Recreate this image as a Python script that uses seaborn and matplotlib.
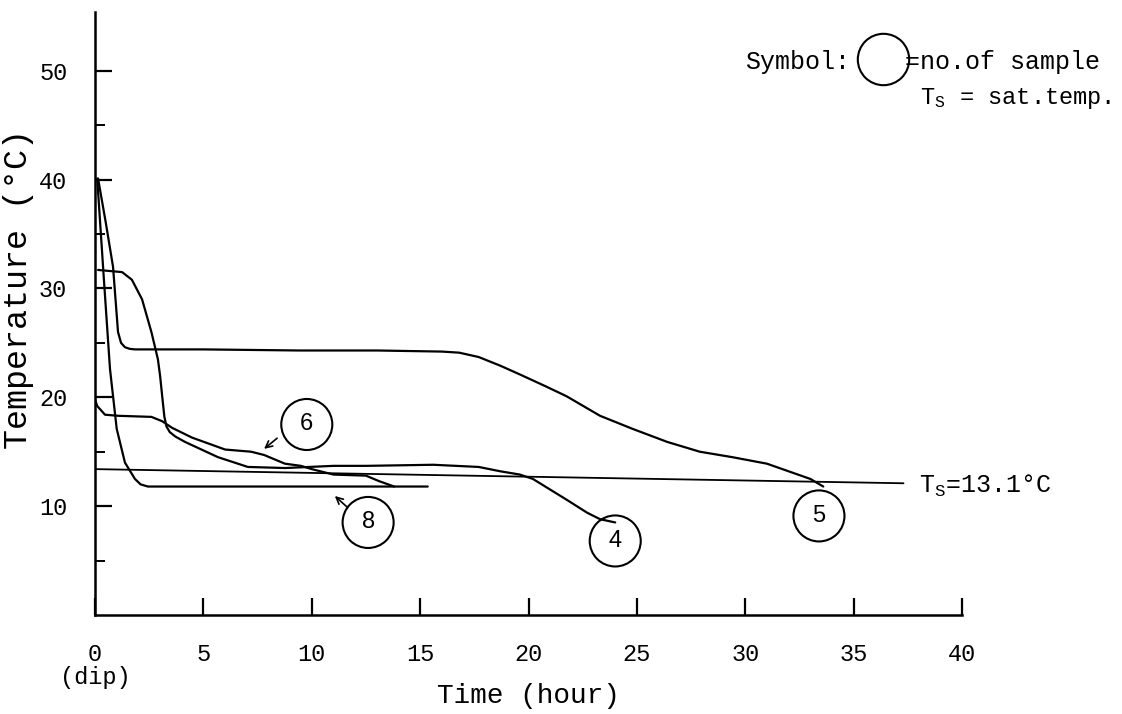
import matplotlib
matplotlib.use("Agg")
import matplotlib.pyplot as plt
import numpy as np
import pandas as pd
import seaborn as sns

# ---------------- data ----------------
# sample 5
s5_hours = [0.14, 0.5, 0.83, 1.06, 1.2, 1.38, 1.6, 1.84, 5.0, 9.4, 13.0, 16.0, 16.8, 17.7,
            18.7, 19.6, 20.8, 21.75, 23.3, 24.8, 26.4, 27.9, 29.4, 31.0, 32.0, 33.0, 33.6]
s5_temps = [40.1, 36.0, 32.0, 26.0, 25.0, 24.6, 24.45, 24.4, 24.4, 24.3, 24.3, 24.2, 24.1, 23.7,
            22.9, 22.1, 21.0, 20.1, 18.3, 17.1, 15.9, 15.0, 14.5, 13.9, 13.2, 12.5, 11.8]
# sample 8
s8_hours = [0.1, 0.41, 0.69, 1.0, 1.38, 1.84, 2.1, 2.44, 2.75, 6.0, 10.0, 15.35]
s8_temps = [40.1, 30.8, 22.6, 17.1, 14.0, 12.5, 12.0, 11.8, 11.8, 11.8, 11.8, 11.8]
# sample 4
s4_hours = [0.14, 1.25, 1.7, 2.17, 2.6, 2.9, 3.0, 3.13, 3.2, 3.3, 3.45, 3.7, 4.15, 5.67, 7.05,
            8.76, 11.0, 12.5, 15.6, 17.7, 18.7, 19.6, 20.2, 21.75, 22.7, 23.3, 24.0]
s4_temps = [31.7, 31.5, 30.8, 29.0, 26.0, 23.5, 22.0, 19.5, 18.2, 17.3, 16.8, 16.4, 15.9, 14.5,
            13.6, 13.5, 13.7, 13.7, 13.8, 13.6, 13.2, 12.9, 12.5, 10.6, 9.4, 8.8, 8.5]
# sample 6
s6_hours = [0.0, 0.1, 0.46, 1.06, 2.6, 3.1, 3.55, 4.47, 6.0, 7.2, 7.8, 8.76, 9.5,
            10.0, 10.4, 11.0, 12.5, 13.1, 13.8]
s6_temps = [19.8, 19.2, 18.4, 18.3, 18.2, 17.8, 17.2, 16.3, 15.2, 15.0, 14.7, 13.9, 13.7,
            13.4, 13.2, 12.9, 12.8, 12.3, 11.8]

# saturation temperature line (as drawn)
ts_hours = [0.0, 37.3]
ts_temps = [13.4, 12.1]

# sample-number circles
circle_labels = ["6", "8", "4", "5"]
circle_x = [9.77, 12.6, 24.0, 33.4]
circle_y = [17.5, 8.5, 6.8, 9.1]

x_ticks = [0, 5, 10, 15, 20, 25, 30, 35, 40]
x_ticklabels = ["0\n(dip)", "5", "10", "15", "20", "25", "30", "35", "40"]
y_ticks = [10, 20, 30, 40, 50]
y_minor = [5, 15, 25, 35, 45]

# ---------------- style ----------------
sns.set_theme(style="white")
plt.rcParams["font.family"] = ["Liberation Mono", "DejaVu Sans Mono"]
plt.rcParams["mathtext.fontset"] = "custom"
plt.rcParams["mathtext.rm"] = "Liberation Mono"
plt.rcParams["mathtext.it"] = "Liberation Mono"
plt.rcParams["text.color"] = "black"

fig = plt.figure(figsize=(11.22, 7.14), dpi=100)
fig.patch.set_facecolor("white")
ax = fig.add_axes([0.0847, 0.1387, 0.7727, 0.8445])
ax.set_facecolor("white")

frames = []
for name, h, t in [("5", s5_hours, s5_temps), ("8", s8_hours, s8_temps),
                   ("4", s4_hours, s4_temps), ("6", s6_hours, s6_temps)]:
    frames.append(pd.DataFrame({"hour": h, "temp": t, "sample": name}))
df = pd.concat(frames, ignore_index=True)

sns.lineplot(data=df, x="hour", y="temp", units="sample", estimator=None, sort=False,
             color="black", linewidth=1.6, ax=ax, legend=False)
sns.lineplot(x=ts_hours, y=ts_temps, color="black", linewidth=1.3, ax=ax, sort=False)

# circles with sample numbers
ax.scatter(circle_x, circle_y, s=1350, facecolors="none", edgecolors="black",
           linewidths=1.5, zorder=3)
for lab, cx, cy in zip(circle_labels, circle_x, circle_y):
    ax.text(cx, cy, lab, ha="center", va="center", fontsize=17,
            family=["Liberation Sans", "DejaVu Sans"], color="black")

# arrows
ax.annotate("", xy=(7.7, 15.1), xytext=(8.5, 16.4),
            arrowprops=dict(arrowstyle="->", color="black", lw=1.2))
ax.annotate("", xy=(10.97, 11.1), xytext=(11.75, 9.7),
            arrowprops=dict(arrowstyle="->", color="black", lw=1.2))

# Ts label
ax.text(38.0, 11.9, r"T$_\mathrm{S}$=13.1°C", fontsize=18, ha="left", va="center",
        clip_on=False)

# axes cosmetics
ax.set_xlim(0, 40)
ax.set_ylim(0, 55.4)
for s in ["top", "right"]:
    ax.spines[s].set_visible(False)
for s in ["left", "bottom"]:
    ax.spines[s].set_color("black")
    ax.spines[s].set_linewidth(1.8)

ax.set_xticks(x_ticks)
ax.set_xticklabels(x_ticklabels, fontsize=17, linespacing=1.0)
ax.set_yticks(y_ticks)
ax.set_yticklabels([str(v) for v in y_ticks], fontsize=17)
ax.set_yticks(y_minor, minor=True)
ax.tick_params(axis="both", which="major", direction="in", length=12, width=1.6,
               colors="black", bottom=True, left=True, pad=20)
ax.tick_params(axis="y", which="minor", direction="in", length=7, width=1.4,
               colors="black", left=True)
ax.grid(False)

ax.set_xlabel("Time (hour)", fontsize=20, color="black")
ax.xaxis.set_label_coords(0.5, -0.112)
ax.set_ylabel("Temperature (°C)", fontsize=24, color="black")
ax.yaxis.set_label_coords(-0.07, 0.54)

# legend-like notes in the top right
fig.text(0.664, 0.913, "Symbol:", fontsize=18, ha="left", va="center")
ax.plot([0.787], [0.917], marker="o", ms=37, mfc="none", mec="black", mew=1.5,
        transform=fig.transFigure, clip_on=False)
fig.text(0.8066, 0.913, "=no.of sample", fontsize=18, ha="left", va="center")
fig.text(0.82, 0.862, r"T$_\mathrm{S}$ = sat.temp.", fontsize=17, ha="left", va="center")

fig.savefig("out.png", dpi=100, facecolor="white")
